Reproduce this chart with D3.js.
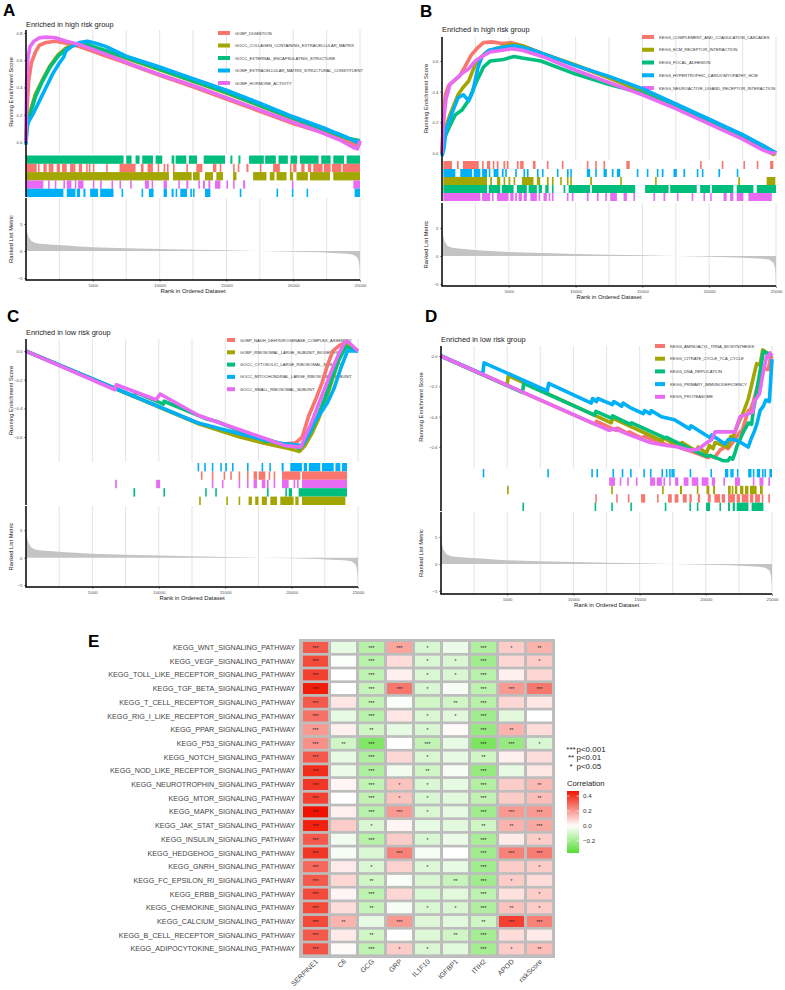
<!DOCTYPE html>
<html>
<head>
<meta charset="utf-8">
<script src="https://cdnjs.cloudflare.com/ajax/libs/d3/7.8.5/d3.min.js"></script>
<style>
body { margin: 0; background: #fff; }
text { font-family: "Liberation Sans", Arial, sans-serif; }
</style>
</head>
<body>
<svg id="fig" width="785" height="990"></svg>
<script>
var palette = ["#F8766D", "#A3A500", "#00BF7D", "#00B0F6", "#E76BF3"]

// ranked list metric (shared by the four GSEA panels)
var rankMetric = [[0,5.2],[30,4.5],[80,3.6],[175,2.7],[300,2.2],[420,1.8],[700,1.5],[1050,1.36],[2000,1.15],[3000,1.0],[4000,0.85],[5000,0.7],[7500,0.52],[10000,0.37],[12500,0.24],[15000,0.12],[17500,0.0],[20000,-0.12],[22000,-0.25],[23000,-0.37],[24000,-0.5],[24500,-0.68],[24800,-1.2],[24900,-1.9],[24970,-3],[25000,-5.2]]
var rankTicks = [5000, 10000, 15000, 20000, 25000]

// ---------- panel A ----------
var setsA = ["GOBP_DIGESTION", "GOCC_COLLAGEN_CONTAINING_EXTRACELLULAR_MATRIX", "GOCC_EXTERNAL_ENCAPSULATING_STRUCTURE", "GOMF_EXTRACELLULAR_MATRIX_STRUCTURAL_CONSTITUENT", "GOMF_HORMONE_ACTIVITY"]
var esA = [
    [[0,0],[80,0.25],[200,0.45],[400,0.58],[700,0.66],[1000,0.71],[1500,0.73],[2200,0.74],[3000,0.725],[4000,0.7],[5000,0.665],[6000,0.63],[7500,0.58],[10000,0.49],[12500,0.405],[15000,0.315],[17500,0.225],[20000,0.135],[22000,0.075],[23500,0.025],[24500,-0.015],[24900,-0.025],[25000,0]],
    [[0,0],[80,0.15],[300,0.22],[700,0.35],[1200,0.45],[1800,0.56],[2400,0.64],[3000,0.69],[3600,0.715],[4200,0.73],[5000,0.7],[6000,0.665],[7500,0.615],[10000,0.53],[12500,0.445],[15000,0.36],[17500,0.265],[20000,0.17],[22500,0.08],[24000,0.03],[24800,0.0],[25000,0.01]],
    [[0,0],[80,0.13],[300,0.2],[700,0.33],[1200,0.44],[1800,0.55],[2400,0.63],[3000,0.68],[3600,0.71],[4200,0.725],[5000,0.7],[6000,0.67],[7500,0.62],[10000,0.535],[12500,0.45],[15000,0.365],[17500,0.27],[20000,0.175],[22500,0.085],[24000,0.03],[25000,0.01]],
    [[0,-0.02],[60,0.1],[200,0.15],[600,0.22],[1000,0.3],[1500,0.4],[2000,0.5],[2500,0.58],[2800,0.62],[3000,0.67],[3400,0.7],[4000,0.73],[4600,0.74],[5200,0.725],[6000,0.7],[7500,0.63],[10000,0.55],[12500,0.465],[15000,0.38],[17500,0.285],[20000,0.185],[22500,0.095],[24000,0.035],[24700,0.0],[25000,0.01]],
    [[0,0],[50,0.45],[150,0.62],[300,0.7],[600,0.74],[1000,0.765],[1500,0.77],[2200,0.765],[3000,0.74],[4000,0.715],[5000,0.68],[6500,0.625],[8000,0.565],[10000,0.495],[12500,0.415],[15000,0.325],[17500,0.235],[20000,0.145],[22000,0.075],[23500,0.015],[24500,-0.04],[24800,-0.05],[25000,0.01]]
]
var hitsA = [
    [[0,800],[900,950],[1300,1550],[1700,2050],[2300,2550],[2700,3050],[3300,3700],[3950,4200],[4500,4600],[4700,4800],[5000,5050],[6000,6100],[7000,8200],[8600,8800],[9100,9500],[9850,9950],[10300,10400],[10550,10650],[11000,11050],[12000,12100],[12750,13200],[14000,14250],[14500,14600],[15500,15550],[15850,15900],[16500,16650],[17500,17600],[18500,19000],[19750,19800],[20000,20250],[20600,20850],[21100,21350],[21500,22200],[22300,22800],[22900,23600],[23700,25000]],
    [[0,10700],[11000,12400],[12500,13000],[13400,14000],[14250,14750],[15500,15750],[17000,18000],[18250,18600],[18750,19500],[19750,20000],[20250,21100],[21250,22750],[23000,25000]],
    [[0,7300],[7500,7900],[8200,8500],[8700,9500],[9700,10200],[10900,11100],[11200,12000],[12200,12800],[13300,14900],[15300,15450],[15900,16050],[16700,17800],[17900,18700],[18900,19600],[19800,20300],[20500,21900],[22100,22800],[23000,23800],[24000,25000]],
    [[0,2800],[3050,3700],[3800,4050],[4300,4450],[4800,5400],[5550,6550],[7150,7200],[8650,8700],[9200,9550],[10300,10550],[10900,11050],[11200,11300],[11550,12050],[12300,12350],[12500,12550],[13400,13800],[16000,16050],[18750,18800],[19900,19950],[21000,21050],[24600,25000]],
    [[0,1300],[1650,1750],[2150,2250],[2800,2850],[3050,3400],[3650,3700],[3900,4300],[5000,5050],[5550,5600],[6400,6450],[7000,7050],[7800,7850],[8900,9200],[9400,9450],[10300,10550],[11400,11450],[12000,12150],[12900,12950],[13250,13400],[13650,13800],[14150,14550],[15000,15050],[15500,15550],[16250,16400],[19900,19950],[24500,25000]]
]
var rugOrderA = [2, 0, 1, 4, 3]

// ---------- panel B ----------
var setsB = ["KEGG_COMPLEMENT_AND_COAGULATION_CASCADES", "KEGG_ECM_RECEPTOR_INTERACTION", "KEGG_FOCAL_ADHESION", "KEGG_HYPERTROPHIC_CARDIOMYOPATHY_HCM", "KEGG_NEUROACTIVE_LIGAND_RECEPTOR_INTERACTION"]
var esB = [
    [[0,0],[100,0.2],[250,0.38],[500,0.44],[900,0.47],[1300,0.5],[1700,0.56],[2200,0.64],[2700,0.69],[3100,0.72],[3800,0.725],[4500,0.715],[5200,0.72],[6000,0.7],[7500,0.65],[10000,0.57],[12500,0.49],[15000,0.405],[17500,0.31],[20000,0.21],[22500,0.11],[24000,0.05],[25000,0]],
    [[0,0],[200,0.15],[600,0.25],[1200,0.38],[1600,0.43],[2000,0.47],[2500,0.58],[3200,0.65],[4000,0.68],[5200,0.71],[6000,0.7],[7500,0.65],[10000,0.575],[12500,0.49],[15000,0.4],[17500,0.31],[20000,0.21],[22500,0.11],[24000,0.04],[24800,-0.01],[25000,0]],
    [[0,0],[200,0.1],[600,0.18],[1000,0.25],[1500,0.28],[2000,0.345],[2600,0.47],[3100,0.56],[3600,0.6],[4600,0.61],[5400,0.63],[6000,0.62],[7400,0.6],[10000,0.515],[12400,0.45],[15000,0.39],[17500,0.3],[20000,0.2],[22500,0.1],[24000,0.04],[25000,0]],
    [[0,-0.02],[150,0.03],[300,0.15],[700,0.25],[1200,0.36],[1600,0.38],[2000,0.34],[2300,0.4],[2700,0.56],[3000,0.63],[3500,0.67],[4500,0.69],[5500,0.7],[6500,0.68],[7500,0.65],[10000,0.57],[12500,0.5],[15000,0.42],[17500,0.32],[20000,0.22],[22500,0.12],[24000,0.05],[25000,0]],
    [[0,0],[100,0.2],[300,0.35],[600,0.45],[1000,0.48],[1500,0.52],[2000,0.55],[2500,0.6],[3000,0.63],[3600,0.66],[4500,0.67],[5200,0.68],[6000,0.67],[7500,0.63],[10000,0.54],[12500,0.46],[15000,0.38],[17500,0.29],[20000,0.19],[22500,0.09],[24000,0.02],[24600,0.0],[25000,0]]
]
var hitsB = [
    [[100,750],[1120,1250],[1570,2750],[3000,3120],[3370,3610],[3800,3900],[4100,4230],[4600,4730],[4850,4980],[5600,5730],[5850,6110],[6800,7000],[7850,7900],[8970,9000],[10840,10870],[11470,11500],[12090,12130],[13800,14050],[19320,19350],[20940,20970],[22560,22600],[23560,23590],[24560,24800]],
    [[100,3370],[3610,3740],[4110,4360],[4610,4730],[4980,5110],[5360,5480],[5980,6850],[7100,7350],[7850,7980],[8230,8350],[8850,8880],[9350,9380],[9600,9630],[11090,11220],[13340,13370],[15950,15980],[22180,22210],[24300,24950]],
    [[100,3370],[3500,4360],[4480,5360],[5610,6350],[6480,7100],[7230,7480],[7730,7980],[8230,8350],[9100,9230],[9480,11090],[11220,14460],[15200,16960],[17080,19070],[19320,20070],[20200,21810],[22060,23310],[23560,25000]],
    [[100,1000],[1370,2250],[2370,2870],[3000,3370],[3500,3610],[3860,4230],[4480,4610],[4730,4850],[5480,5600],[6100,6130],[6350,6480],[7100,7230],[7480,7600],[8600,8630],[9350,9480],[9600,9630],[10840,11090],[11470,11590],[12090,12340],[12710,12840],[13090,13340],[14580,14700],[15330,15450],[16080,16110],[16450,16580],[17330,17580],[18070,18200],[19070,19100],[19450,19480],[20690,20820],[22060,22180]],
    [[100,2870],[3000,3610],[3740,3860],[4110,4980],[5110,5360],[5480,5610],[5730,5980],[6110,6350],[6610,7100],[7230,7350],[7600,7850],[7980,8100],[8230,8350],[9350,9380],[9720,9750],[10840,10970],[11590,11720],[12220,12340],[12590,13090],[13590,13840],[14330,14360],[15830,15860],[16580,16710],[17580,17610],[18690,18720],[19570,19600],[20070,20100],[21070,21310],[21560,21810],[22060,22560],[22930,24680]]
]
var rugOrderB = [0, 3, 1, 2, 4]

// ---------- panel C ----------
var setsC = ["GOBP_NADH_DEHYDROGENASE_COMPLEX_ASSEMBLY", "GOBP_RIBOSOMAL_LARGE_SUBUNIT_BIOGENESIS", "GOCC_CYTOSOLIC_LARGE_RIBOSOMAL_SUBUNIT", "GOCC_MITOCHONDRIAL_LARGE_RIBOSOMAL_SUBUNIT", "GOCC_SMALL_RIBOSOMAL_SUBUNIT"]
var esC = [
    [[0,0],[13150,-0.51],[14900,-0.56],[16100,-0.59],[17400,-0.61],[18800,-0.64],[19300,-0.65],[20300,-0.64],[20800,-0.6],[21300,-0.45],[21800,-0.34],[22300,-0.22],[22700,-0.1],[23100,0.0],[23600,0.04],[24100,0.06],[25000,0]],
    [[0,0],[13050,-0.51],[15100,-0.57],[16100,-0.6],[17000,-0.62],[17800,-0.64],[18800,-0.66],[19800,-0.68],[20600,-0.7],[21000,-0.66],[21500,-0.58],[22000,-0.48],[22500,-0.36],[23000,-0.22],[23500,-0.08],[24000,0.05],[25000,0]],
    [[0,0],[8100,-0.315],[8300,-0.29],[10350,-0.37],[10400,-0.35],[13500,-0.47],[14300,-0.49],[18100,-0.63],[18300,-0.62],[19500,-0.66],[20000,-0.65],[20600,-0.68],[21000,-0.63],[21500,-0.55],[22000,-0.45],[22500,-0.33],[23000,-0.2],[23500,-0.07],[24100,0.03],[25000,0]],
    [[0,0],[12900,-0.5],[15000,-0.55],[17500,-0.61],[19300,-0.645],[20800,-0.66],[21200,-0.6],[21700,-0.5],[22200,-0.43],[22700,-0.36],[23200,-0.26],[23700,-0.12],[24200,0.0],[25000,0]],
    [[0,0],[6700,-0.27],[6800,-0.235],[9800,-0.34],[10100,-0.3],[13000,-0.45],[15500,-0.53],[18000,-0.61],[19500,-0.66],[20700,-0.67],[21000,-0.6],[21500,-0.5],[22000,-0.38],[22500,-0.26],[23000,-0.14],[23500,-0.03],[24000,0.06],[24200,0.07],[25000,0.0]]
]
var hitsC = [
    [[13170,13210],[13990,14030],[14880,14920],[15380,15420],[16010,16130],[16640,16760],[17140,17390],[17520,18020],[18270,18300],[18650,18770],[19280,20660],[20780,24170]],
    [[13040,13080],[15080,15120],[16010,16130],[16760,17010],[17260,17510],[17760,18140],[18400,18900],[19150,20150],[20280,20530],[20780,24050]],
    [[8090,8220],[10350,10390],[13490,13530],[14250,14290],[18140,18270],[19530,19650],[19780,20030],[20530,24170]],
    [[12920,12960],[13420,13500],[13990,14030],[14630,14750],[15000,15130],[15510,15550],[16640,16760],[17740,17780],[18320,18360],[19250,19400],[19900,20780],[20910,21160],[21290,22160],[22290,23170],[23300,23670],[23800,24170]],
    [[6710,6840],[9800,10100],[13990,14030],[14750,14790],[16010,16130],[16640,16680],[17140,17390],[17760,18020],[18140,18270],[18650,18770],[19280,19780],[20150,20190],[20410,20450],[20780,24170]]
]
var rugOrderC = [3, 0, 4, 2, 1]

// ---------- panel D ----------
var setsD = ["KEGG_AMINOACYL_TRNA_BIOSYNTHESIS", "KEGG_CITRATE_CYCLE_TCA_CYCLE", "KEGG_DNA_REPLICATION", "KEGG_PRIMARY_IMMUNODEFICIENCY", "KEGG_PROTEASOME"]
var esD = [
    [[0,0],[11650,-0.45],[11750,-0.43],[13230,-0.49],[13330,-0.475],[14110,-0.51],[14210,-0.5],[15110,-0.54],[15420,-0.53],[16320,-0.57],[16420,-0.56],[17150,-0.59],[17430,-0.58],[17930,-0.6],[18560,-0.62],[18940,-0.63],[19570,-0.65],[20150,-0.67],[20370,-0.66],[20650,-0.67],[21080,-0.62],[21450,-0.6],[21680,-0.61],[22200,-0.55],[22580,-0.5],[22710,-0.5],[23220,-0.36],[23340,-0.36],[23590,-0.3],[24090,-0.14],[24350,-0.08],[24720,-0.09],[24850,-0.03],[25000,0]],
    [[0,0],[4990,-0.195],[5080,-0.13],[12860,-0.44],[12960,-0.41],[16700,-0.56],[16800,-0.54],[18050,-0.6],[18200,-0.57],[19320,-0.63],[19420,-0.6],[20050,-0.64],[20270,-0.59],[20550,-0.61],[20700,-0.57],[21680,-0.6],[21880,-0.53],[22080,-0.53],[22380,-0.46],[22840,-0.37],[23220,-0.28],[23840,-0.05],[24090,-0.06],[24300,0.04],[25000,0]],
    [[0,0],[6150,-0.24],[6250,-0.18],[11600,-0.39],[11700,-0.365],[12860,-0.41],[12960,-0.395],[14300,-0.45],[14400,-0.44],[16900,-0.54],[17000,-0.535],[18760,-0.61],[19420,-0.635],[20020,-0.66],[20320,-0.655],[21030,-0.68],[21300,-0.69],[21680,-0.69],[21830,-0.67],[22030,-0.68],[22200,-0.64],[22330,-0.6],[22840,-0.5],[23220,-0.44],[23460,-0.45],[23590,-0.36],[24000,-0.15],[24350,0.03],[25000,0]],
    [[0,0],[3150,-0.12],[3250,-0.045],[8030,-0.23],[8130,-0.18],[11350,-0.31],[11450,-0.28],[11740,-0.3],[11840,-0.28],[12950,-0.32],[13050,-0.3],[13650,-0.33],[13750,-0.31],[14280,-0.34],[15280,-0.38],[15380,-0.36],[15780,-0.38],[15880,-0.36],[16650,-0.4],[17630,-0.42],[18780,-0.48],[18880,-0.46],[20350,-0.54],[20450,-0.52],[21450,-0.58],[21700,-0.55],[22080,-0.55],[22450,-0.56],[23200,-0.6],[23450,-0.54],[23650,-0.5],[23850,-0.45],[24100,-0.36],[24350,-0.33],[24530,-0.29],[24800,-0.3],[25000,-0.02]],
    [[0,0],[12700,-0.49],[13150,-0.48],[14100,-0.515],[15800,-0.57],[16700,-0.585],[17900,-0.6],[18700,-0.62],[19400,-0.615],[20100,-0.57],[20450,-0.55],[20700,-0.5],[21450,-0.5],[22200,-0.5],[22580,-0.4],[23550,-0.37],[23650,-0.3],[24050,-0.25],[24350,-0.1],[24600,0.0],[24720,-0.01],[24850,0.02],[25000,0]]
]
var hitsD = [
    [[11650,11750],[13230,13330],[14110,14210],[15110,15420],[16320,16420],[17150,17430],[17650,17930],[18260,18560],[18760,18940],[19400,19570],[20150,20370],[20650,21080],[21200,21450],[21680,22200],[22330,22580],[22710,23220],[23340,23590],[23720,24090],[24220,24350],[24720,24850]],
    [[4990,5080],[12860,12960],[16700,16800],[18050,18200],[19320,19420],[20050,20270],[20550,20700],[21680,21880],[21960,22080],[22200,22380],[22580,22840],[22960,23220],[23340,23840],[24090,24300]],
    [[6150,6250],[11600,11700],[12860,12960],[14300,14400],[16900,17000],[18760,18860],[19320,19420],[20020,20320],[21030,21130],[21680,21830],[22030,22200],[22330,23220],[23460,24350]],
    [[3150,3250],[8030,8130],[11350,11450],[11740,11840],[12950,13050],[13650,13750],[14280,14380],[15280,15380],[15780,15880],[16650,16750],[16980,17080],[17230,17330],[17400,17500],[17530,17630],[18780,18880],[20350,20450],[21450,21700],[21850,21950],[21980,22080],[22350,22450],[23200,23450],[23550,23650],[23850,24100],[24250,24350],[24430,24530],[24800,25000]],
    [[12700,13150],[13500,13550],[14060,14110],[14720,14770],[15790,16170],[16300,16680],[16800,16930],[17230,17350],[17680,17930],[18330,18690],[18940,19440],[19690,20200],[20450,20700],[21330,21450],[22200,22580],[23550,23650],[24050,24350],[24720,24850]]
]
var rugOrderD = [3, 4, 1, 0, 2]

// ---------- panel E ----------
var pathways = ["KEGG_WNT_SIGNALING_PATHWAY", "KEGG_VEGF_SIGNALING_PATHWAY", "KEGG_TOLL_LIKE_RECEPTOR_SIGNALING_PATHWAY", "KEGG_TGF_BETA_SIGNALING_PATHWAY", "KEGG_T_CELL_RECEPTOR_SIGNALING_PATHWAY", "KEGG_RIG_I_LIKE_RECEPTOR_SIGNALING_PATHWAY", "KEGG_PPAR_SIGNALING_PATHWAY", "KEGG_P53_SIGNALING_PATHWAY", "KEGG_NOTCH_SIGNALING_PATHWAY", "KEGG_NOD_LIKE_RECEPTOR_SIGNALING_PATHWAY", "KEGG_NEUROTROPHIN_SIGNALING_PATHWAY", "KEGG_MTOR_SIGNALING_PATHWAY", "KEGG_MAPK_SIGNALING_PATHWAY", "KEGG_JAK_STAT_SIGNALING_PATHWAY", "KEGG_INSULIN_SIGNALING_PATHWAY", "KEGG_HEDGEHOG_SIGNALING_PATHWAY", "KEGG_GNRH_SIGNALING_PATHWAY", "KEGG_FC_EPSILON_RI_SIGNALING_PATHWAY", "KEGG_ERBB_SIGNALING_PATHWAY", "KEGG_CHEMOKINE_SIGNALING_PATHWAY", "KEGG_CALCIUM_SIGNALING_PATHWAY", "KEGG_B_CELL_RECEPTOR_SIGNALING_PATHWAY", "KEGG_ADIPOCYTOKINE_SIGNALING_PATHWAY"]
var genes = ["SERPINE1", "C6", "GCG", "GRP", "IL1F10", "IGFBP1", "ITIH2", "APOD", "riskScore"]
var corr = [
    [0.33,-0.05,-0.15,0.18,-0.08,-0.04,-0.17,0.10,0.15],
    [0.36,-0.01,-0.15,0.07,-0.08,-0.08,-0.20,0.08,0.10],
    [0.38,0.00,-0.14,0.03,-0.08,-0.08,-0.15,0.03,0.08],
    [0.45,0.00,-0.12,0.27,-0.08,-0.02,-0.14,0.20,0.27],
    [0.33,0.05,-0.13,-0.01,-0.10,-0.10,-0.15,0.08,0.05],
    [0.28,-0.05,-0.15,0.05,-0.08,-0.06,-0.20,-0.06,0.00],
    [0.20,0.03,-0.10,-0.05,-0.08,0.01,-0.22,0.15,0.07],
    [0.22,-0.10,-0.27,0.00,-0.13,-0.05,-0.28,-0.22,-0.08],
    [0.33,-0.05,-0.17,0.08,-0.08,-0.05,-0.10,0.03,0.07],
    [0.42,-0.04,-0.17,-0.03,-0.10,-0.02,-0.22,-0.05,0.05],
    [0.40,0.02,-0.13,0.12,-0.08,-0.05,-0.16,0.10,0.14],
    [0.38,0.00,-0.13,0.12,-0.08,-0.06,-0.13,0.10,0.13],
    [0.47,0.03,-0.15,0.20,-0.08,-0.05,-0.20,0.20,0.20],
    [0.44,0.10,-0.08,0.02,-0.05,-0.06,-0.10,0.15,0.17],
    [0.33,-0.03,-0.15,0.10,-0.08,-0.04,-0.18,0.04,0.10],
    [0.40,-0.02,-0.08,0.25,-0.02,0.00,-0.20,0.25,0.26],
    [0.30,0.04,-0.08,0.09,-0.07,-0.05,-0.20,0.10,0.10],
    [0.33,0.08,-0.10,-0.01,-0.08,-0.12,-0.20,0.10,0.07],
    [0.36,0.02,-0.14,0.08,-0.08,-0.06,-0.14,0.06,0.10],
    [0.36,0.07,-0.12,-0.02,-0.08,-0.08,-0.17,0.12,0.10],
    [0.36,0.15,-0.05,0.20,-0.07,-0.06,-0.10,0.38,0.25],
    [0.33,0.04,-0.10,0.00,-0.07,-0.10,-0.19,0.07,0.04],
    [0.34,0.01,-0.14,0.10,-0.08,-0.06,-0.19,0.10,0.13]
]
var stars = [
    ["***","","***","***","*","","***","*","**"],
    ["***","","***","","*","*","***","","*"],
    ["***","","***","","*","*","***","",""],
    ["***","","***","***","*","","***","***","***"],
    ["***","","***","","","**","***","",""],
    ["***","","***","","*","*","***","",""],
    ["***","","**","","*","","***","**",""],
    ["***","**","***","","***","","***","***","*"],
    ["***","","***","","*","","**","",""],
    ["***","","***","","**","","***","",""],
    ["***","","***","*","*","","***","","**"],
    ["***","","***","*","*","","***","","**"],
    ["***","","***","***","*","","***","***","***"],
    ["***","","*","","","","**","**","***"],
    ["***","","***","","*","","***","","*"],
    ["***","","","***","","","***","***","***"],
    ["***","","*","","*","","***","","*"],
    ["***","","**","","","**","***","*",""],
    ["***","","***","","","","***","","*"],
    ["***","","**","","*","*","***","**","*"],
    ["***","**","","***","","","**","***","***"],
    ["***","","**","","","**","***","",""],
    ["***","","***","*","*","","***","*","**"]
]
var pLegend = [["***", "p<0.001"], ["**", "p<0.01"], ["*", "p<0.05"]]
var corrTicks = [0.4, 0.2, 0.0, -0.2]

var svg = d3.select("#fig")

function drawGsea(p) {
    var g = svg.append("g")
    var x = d3.scaleLinear().domain([0, 25000]).range([p.x0, p.x1])
    var yEs = d3.scaleLinear().domain(p.esDom).range([p.esBot, p.esTop])
    var yRk = d3.scaleLinear().domain(p.rkDom).range([p.rkBot, p.rkTop])
    var grid = d3.range(2500, 25001, 2500)

    // vertical grid lines
    ;[[p.esTop, p.esBot], [p.rkTop, p.rkBot]].forEach(function(r) {
        g.selectAll(null).data(grid).enter().append("line")
            .attr("x1", function(d) { return x(d) }).attr("x2", function(d) { return x(d) })
            .attr("y1", r[0]).attr("y2", r[1])
            .style("stroke", "#e6e6e6").style("stroke-width", 1.1)
    })

    // legend (drawn under the curves)
    p.sets.forEach(function(s, i) {
        var ly = p.legY + i * p.legDy
        g.append("rect").attr("x", p.legX).attr("y", ly - 2).attr("width", p.keyW).attr("height", 4)
            .style("fill", palette[i])
        g.append("text").attr("x", p.legX + p.keyW + 5).attr("y", ly + 1.5)
            .style("font-size", "4.1px").style("fill", "#333").text(s)
    })

    // running ES curves
    var line = d3.line().x(function(d) { return x(d[0]) }).y(function(d) { return yEs(d[1]) })
    p.es.forEach(function(pts, i) {
        g.append("path").attr("d", line(pts))
            .style("fill", "none").style("stroke", palette[i])
            .style("stroke-width", 3.6).style("stroke-linejoin", "round")
    })

    // hit rug
    var rowH = (p.rugBot - p.rugTop) / 5
    p.rugOrder.forEach(function(si, r) {
        g.selectAll(null).data(p.hits[si]).enter().append("rect")
            .attr("x", function(d) { return x(d[0]) })
            .attr("width", function(d) { return Math.max(1.6, x(d[1]) - x(d[0])) })
            .attr("y", p.rugTop + r * rowH).attr("height", rowH)
            .style("fill", palette[si])
    })

    // ranked list metric
    var area = d3.area().x(function(d) { return x(d[0]) }).y0(yRk(0)).y1(function(d) { return yRk(d[1]) })
    g.append("path").attr("d", area(rankMetric)).style("fill", "#c4c4c4")

    // axes
    var esAxis = g.append("g").attr("transform", "translate(" + p.x0 + ",0)")
        .call(d3.axisLeft(yEs).tickValues(p.esTicks).tickSize(2).tickSizeOuter(0).tickFormat(d3.format(".1f")))
    var rkAxis = g.append("g").attr("transform", "translate(" + p.x0 + ",0)")
        .call(d3.axisLeft(yRk).tickValues([-5, 0, 5]).tickSize(2).tickSizeOuter(0).tickFormat(d3.format("d")))
    var xAxis = g.append("g").attr("transform", "translate(0," + p.rkBot + ")")
        .call(d3.axisBottom(x).tickValues(rankTicks).tickSize(2).tickSizeOuter(0).tickFormat(d3.format("d")))
    ;[esAxis, rkAxis, xAxis].forEach(function(a) {
        a.select(".domain").remove()
        a.selectAll(".tick line").style("stroke", "#333").style("stroke-width", 0.5)
        a.selectAll(".tick text").style("font-size", "4.3px").style("fill", "#4d4d4d")
            .style("font-family", "Liberation Sans, Arial, sans-serif")
    })
    xAxis.selectAll(".tick text").attr("y", 4)
    esAxis.selectAll(".tick text").attr("x", -3.5)
    rkAxis.selectAll(".tick text").attr("x", -3.5)

    g.append("line").attr("x1", p.x0).attr("x2", p.x0).attr("y1", p.esTop).attr("y2", p.rugBot)
        .style("stroke", "#000").style("stroke-width", 1.5)
    g.append("line").attr("x1", p.x0).attr("x2", p.x0).attr("y1", p.rkTop).attr("y2", p.rkBot)
        .style("stroke", "#000").style("stroke-width", 1.5)
    g.append("line").attr("x1", p.x0 - 0.75).attr("x2", p.x1).attr("y1", p.rkBot).attr("y2", p.rkBot)
        .style("stroke", "#000").style("stroke-width", 1.5)

    // labels
    g.append("text").attr("x", p.lx).attr("y", p.ly).text(p.letter)
        .style("font-size", "17px").style("font-weight", "bold")
    g.append("text").attr("x", p.x0).attr("y", p.ty).text(p.title)
        .style("font-size", "7.4px").style("fill", "#222")
    g.append("text").attr("transform", "translate(" + (p.ylx + 2) + "," + (p.esTop + p.esBot) / 2 + ") rotate(-90)")
        .attr("text-anchor", "middle").style("font-size", "5.8px").style("fill", "#222")
        .text("Running Enrichment Score")
    g.append("text").attr("transform", "translate(" + (p.ylx + 2) + "," + (p.rkTop + p.rkBot) / 2 + ") rotate(-90)")
        .attr("text-anchor", "middle").style("font-size", "5.8px").style("fill", "#222")
        .text("Ranked List Metric")
    g.append("text").attr("x", (p.x0 + p.x1) / 2).attr("y", p.rkBot + 13)
        .attr("text-anchor", "middle").style("font-size", "5.9px").style("fill", "#222")
        .text("Rank in Ordered Dataset")
}

drawGsea({ letter: "A", lx: 3, ly: 16, title: "Enriched in high risk group", ty: 27, ylx: 11,
    x0: 26, x1: 360, esTop: 30, esBot: 154, esDom: [-0.088, 0.822], esTicks: [0, 0.2, 0.4, 0.6, 0.8],
    rugTop: 155.5, rugBot: 197, rkTop: 198, rkBot: 280, rkDom: [-5.37, 9.81],
    legX: 218, legY: 33, legDy: 12.5, keyW: 12,
    sets: setsA, es: esA, hits: hitsA, rugOrder: rugOrderA })

drawGsea({ letter: "B", lx: 420, ly: 17, title: "Enriched in high risk group", ty: 32, ylx: 426,
    x0: 442, x1: 776, esTop: 37, esBot: 160, esDom: [-0.046, 0.757], esTicks: [0, 0.2, 0.4, 0.6],
    rugTop: 161, rugBot: 201, rkTop: 203, rkBot: 286, rkDom: [-5.36, 9.46],
    legX: 642, legY: 37, legDy: 12.75, keyW: 12,
    sets: setsB, es: esB, hits: hitsB, rugOrder: rugOrderB })

drawGsea({ letter: "C", lx: 7, ly: 322, title: "Enriched in low risk group", ty: 335, ylx: 11,
    x0: 26, x1: 358, esTop: 339, esBot: 462, esDom: [-0.774, 0.084], esTicks: [0, -0.2, -0.4, -0.6],
    rugTop: 463, rugBot: 505, rkTop: 506, rkBot: 587, rkDom: [-5.37, 9.44],
    legX: 227, legY: 340, legDy: 12.3, keyW: 8,
    sets: setsC, es: esC, hits: hitsC, rugOrder: rugOrderC })

drawGsea({ letter: "D", lx: 425, ly: 322, title: "Enriched in low risk group", ty: 342, ylx: 421,
    x0: 441, x1: 772, esTop: 346, esBot: 468, esDom: [-0.738, 0.066], esTicks: [0, -0.2, -0.4, -0.6],
    rugTop: 469, rugBot: 511, rkTop: 512, rkBot: 594, rkDom: [-5.56, 9.63],
    legX: 655, legY: 346, legDy: 12.7, keyW: 10,
    sets: setsD, es: esD, hits: hitsD, rugOrder: rugOrderD })

// ---------- heatmap E ----------
var hx = d3.scaleBand().domain(genes).range([301.5, 553.5]).paddingInner(3 / 28).paddingOuter(1.5 / 28)
var hy = d3.scaleBand().domain(pathways).range([640.6, 955.7]).paddingInner(2.7 / 13.7).paddingOuter(1.35 / 13.7)
var color = d3.scaleLinear().domain([-0.36, 0, 0.467]).range(["#55dd33", "#ffffff", "#f01400"])

var he = svg.append("g")
he.append("rect").attr("x", 299).attr("y", 639).attr("width", 256).attr("height", 319).style("fill", "#bdbdbd")

var cells = []
pathways.forEach(function(pw, i) {
    genes.forEach(function(gn, j) {
        cells.push({ pw: pw, gn: gn, v: corr[i][j], s: stars[i][j] })
    })
})
he.selectAll(".cell").data(cells).enter().append("rect").attr("class", "cell")
    .attr("x", function(d) { return hx(d.gn) }).attr("y", function(d) { return hy(d.pw) })
    .attr("width", hx.bandwidth()).attr("height", hy.bandwidth())
    .style("fill", function(d) { return color(d.v) })
he.selectAll(".star").data(cells.filter(function(d) { return d.s })).enter().append("text")
    .attr("x", function(d) { return hx(d.gn) + hx.bandwidth() / 2 })
    .attr("y", function(d) { return hy(d.pw) + hy.bandwidth() / 2 + 2.3 })
    .attr("text-anchor", "middle").style("font-size", "5px").style("fill", "#222")
    .text(function(d) { return d.s })

he.selectAll(".rowlab").data(pathways).enter().append("text")
    .attr("x", 295).attr("y", function(d) { return hy(d) + hy.bandwidth() / 2 + 2.6 })
    .attr("text-anchor", "end").style("font-size", "7.2px").style("fill", "#444")
    .text(function(d) { return d })
he.selectAll(".collab").data(genes).enter().append("text")
    .attr("transform", function(d) { return "translate(" + (hx(d) + hx.bandwidth() / 2 + 3) + ",962) rotate(-45)" })
    .attr("text-anchor", "end").style("font-size", "7px").style("fill", "#444")
    .text(function(d) { return d })
he.append("text").attr("x", 88).attr("y", 647).text("E").style("font-size", "17px").style("font-weight", "bold")

// p-value key
pLegend.forEach(function(d, i) {
    he.append("text").attr("x", 571).attr("y", 752 + i * 8.4).attr("text-anchor", "middle")
        .style("font-size", "8px").style("fill", "#222").text(d[0])
    he.append("text").attr("x", 576.5).attr("y", 752 + i * 8.4)
        .style("font-size", "8px").style("fill", "#222").text(d[1])
})

// colour bar
var ly = d3.scaleLinear().domain([-0.36, 0.467]).range([853, 791])
var grad = svg.append("defs").append("linearGradient").attr("id", "cbar")
    .attr("x1", 0).attr("x2", 0).attr("y1", 1).attr("y2", 0)
d3.range(0, 1.0001, 0.05).forEach(function(t) {
    var v = -0.36 + t * (0.467 + 0.36)
    grad.append("stop").attr("offset", t).attr("stop-color", color(v))
})
he.append("text").attr("x", 567).attr("y", 786).style("font-size", "7.7px").style("fill", "#222").text("Correlation")
he.append("rect").attr("x", 567).attr("y", 791).attr("width", 12).attr("height", 62).style("fill", "url(#cbar)")
corrTicks.forEach(function(t) {
    he.append("line").attr("x1", 567).attr("x2", 569.5).attr("y1", ly(t)).attr("y2", ly(t))
        .style("stroke", "#fff").style("stroke-width", 0.6)
    he.append("line").attr("x1", 576.5).attr("x2", 579).attr("y1", ly(t)).attr("y2", ly(t))
        .style("stroke", "#fff").style("stroke-width", 0.6)
    he.append("text").attr("x", 583).attr("y", ly(t) + 2.2).style("font-size", "6.2px").style("fill", "#333")
        .text(d3.format(".1f")(t))
})
</script>
</body>
</html>
